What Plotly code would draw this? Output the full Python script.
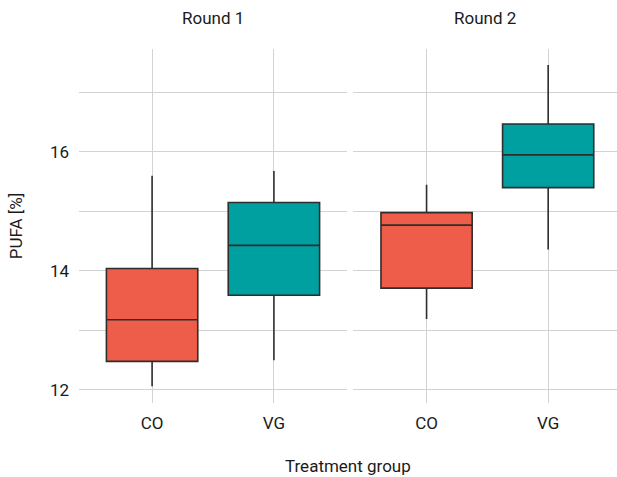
import plotly.graph_objects as go

# Summary statistics of PUFA [%] per treatment group and round
rounds = ["Round 1", "Round 2"]
groups = ["CO", "VG"]
lower_whisker = {"Round 1": [12.06, 12.50], "Round 2": [13.19, 14.36]}
q1_vals = {"Round 1": [12.48, 13.59], "Round 2": [13.71, 15.40]}
median_vals = {"Round 1": [13.18, 14.43], "Round 2": [14.77, 15.95]}
q3_vals = {"Round 1": [14.04, 15.15], "Round 2": [14.98, 16.47]}
upper_whisker = {"Round 1": [15.60, 15.68], "Round 2": [15.45, 17.46]}

group_colors = {"CO": "#EE5C4A", "VG": "#009FA0"}
y_ticks = [12, 13, 14, 15, 16, 17]
y_ticktext = ["12", "", "14", "", "16", ""]

FONT = "Roboto"
FS = 17
W, H = 617, 477
ML, MR, MT, MB = 79, 0, 49, 74
plot_w = W - ML - MR
split1 = 268 / plot_w
split2 = 274 / plot_w

fig = go.Figure()
axes = [("x", "y"), ("x2", "y2")]
for (xa, ya), rnd in zip(axes, rounds):
    for i, g in enumerate(groups):
        fig.add_trace(go.Box(
            x=[g],
            q1=[q1_vals[rnd][i]],
            median=[median_vals[rnd][i]],
            q3=[q3_vals[rnd][i]],
            lowerfence=[lower_whisker[rnd][i]],
            upperfence=[upper_whisker[rnd][i]],
            fillcolor=group_colors[g],
            line=dict(color="#2e2e2e", width=1.6),
            whiskerwidth=0,
            width=0.75,
            boxpoints=False,
            showlegend=False,
            hoverinfo="skip",
            xaxis=xa, yaxis=ya,
        ))

grid = "#D3D3D3"
common_x = dict(
    type="category", categoryorder="array", categoryarray=groups,
    showgrid=True, gridcolor=grid, gridwidth=1, zeroline=False,
    showline=False, ticks="", ticklabelstandoff=8,
    tickfont=dict(family=FONT, size=FS, color="#1a1a1a"),
)
common_y = dict(
    range=[11.78, 17.73], tickvals=y_ticks, ticktext=y_ticktext,
    showgrid=True, gridcolor=grid, gridwidth=1, zeroline=False,
    showline=False, ticks="", ticklabelstandoff=9,
    tickfont=dict(family=FONT, size=FS, color="#1a1a1a"),
)

fig.update_layout(
    width=W, height=H,
    margin=dict(l=ML, r=MR, t=MT, b=MB),
    paper_bgcolor="white", plot_bgcolor="white",
    font=dict(family=FONT, color="#1a1a1a"),
    xaxis=dict(domain=[0, split1], range=[-0.6, 1.6], **common_x),
    xaxis2=dict(domain=[split2, 1], range=[-0.605, 1.566], anchor="y2", **common_x),
    yaxis=dict(domain=[0, 1], **common_y,
               title=dict(text="PUFA [%]", font=dict(family=FONT, size=FS),
                          standoff=22)),
    yaxis2=dict(domain=[0, 1], anchor="x2", matches="y", showticklabels=False,
                **{k: v for k, v in common_y.items() if k not in ("tickfont",)}),
    annotations=[
        dict(text="Round 1", x=split1 / 2, y=1, xref="paper", yref="paper",
             yshift=19, xanchor="center", yanchor="bottom", showarrow=False,
             font=dict(family=FONT, size=FS)),
        dict(text="Round 2", x=(split2 + 1) / 2, y=1, xref="paper", yref="paper",
             yshift=19, xanchor="center", yanchor="bottom", showarrow=False,
             font=dict(family=FONT, size=FS)),
        dict(text="Treatment group", x=0.5, y=0, xref="paper", yref="paper",
             yshift=-51, xanchor="center", yanchor="top", showarrow=False,
             font=dict(family=FONT, size=FS)),
    ],
)

fig.write_html("out.html")
